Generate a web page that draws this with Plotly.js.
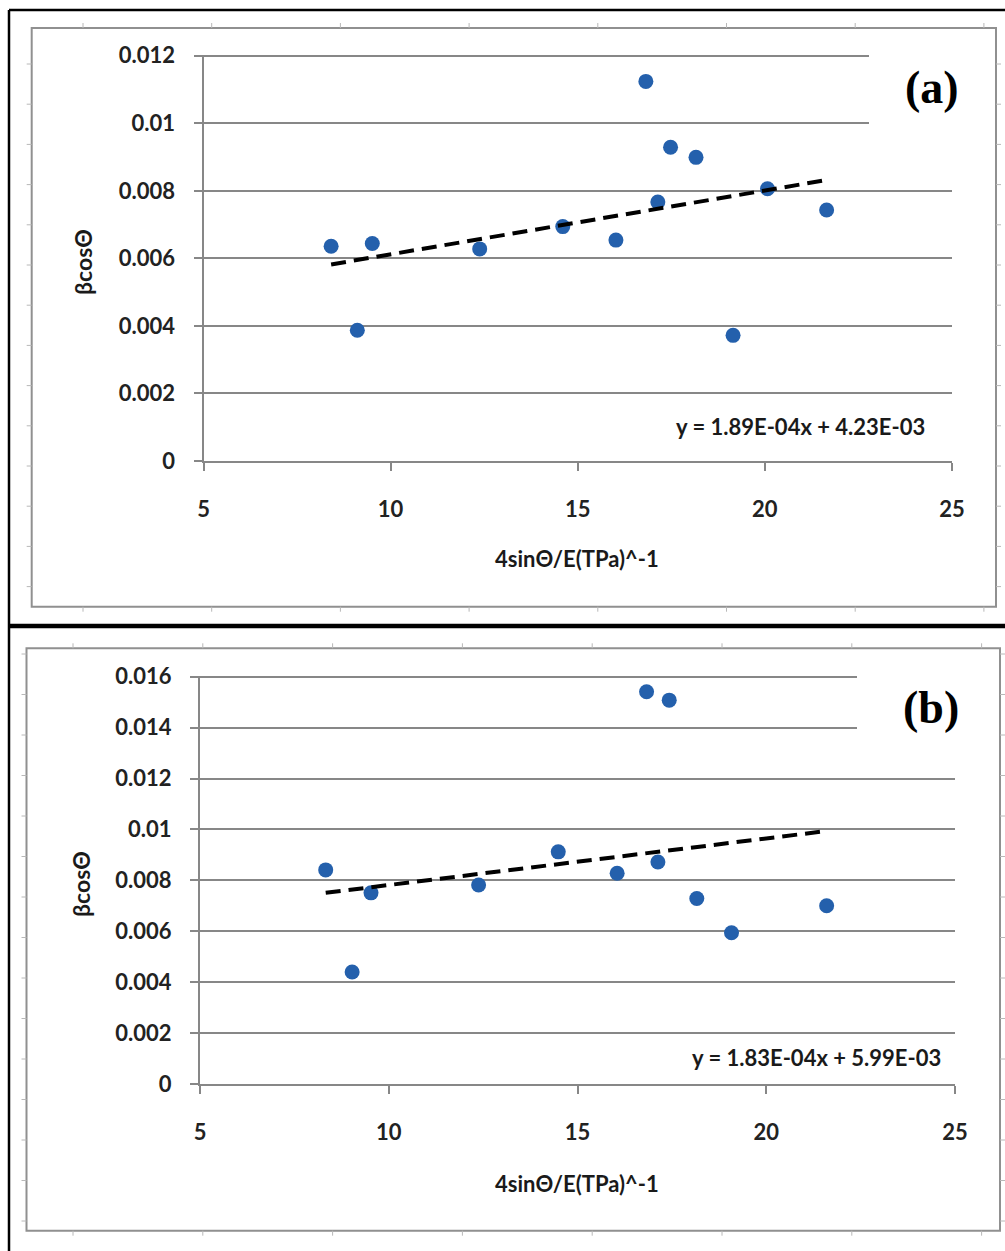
<!DOCTYPE html>
<html>
<head>
<meta charset="utf-8">
<script src="https://cdn.plot.ly/plotly-3.0.1.min.js"></script>
<style>
html,body{margin:0;padding:0;background:#fff;}
#chart{width:1005px;height:1251px;}
</style>
</head>
<body>
<div id="chart"></div>
<script>
// ---------- data ----------
const xA = [8.41, 9.11, 9.51, 12.38, 14.60, 16.02, 16.82, 17.14, 17.48, 18.16, 19.15, 20.07, 21.65];
const yA = [0.00636, 0.00387, 0.00644, 0.00628, 0.00694, 0.00654, 0.01124, 0.00767, 0.00929, 0.00899, 0.00372, 0.00806, 0.00743];
const trendAx = [8.41, 21.65];
const trendAy = [0.00582, 0.00832];
const eqA = "y = 1.89E-04x + 4.23E-03";

const xB = [8.33, 9.03, 9.53, 12.38, 14.49, 16.05, 16.83, 17.13, 17.43, 18.16, 19.08, 21.60];
const yB = [0.00841, 0.00440, 0.00751, 0.00782, 0.00912, 0.00828, 0.01541, 0.00872, 0.01508, 0.00729, 0.00594, 0.00700];
const trendBx = [8.33, 21.60];
const trendBy = [0.00751, 0.00994];
const eqB = "y = 1.83E-04x + 5.99E-03";

const xTickVals = [5, 10, 15, 20, 25];
const xTickText = ["5", "10", "15", "20", "25"];
const yTickValsA = [0, 0.002, 0.004, 0.006, 0.008, 0.010, 0.012];
const yTickTextA = ["0", "0.002", "0.004", "0.006", "0.008", "0.01", "0.012"];
const yTickValsB = [0, 0.002, 0.004, 0.006, 0.008, 0.010, 0.012, 0.014, 0.016];
const yTickTextB = ["0", "0.002", "0.004", "0.006", "0.008", "0.01", "0.012", "0.014", "0.016"];
const xTitle = "4sinΘ/E(TPa)^-1";
const yTitle = "βcosΘ";
const panelLabels = ["(a)", "(b)"];

// ---------- layout helpers ----------
const W = 1005, H = 1251;
const px = v => v / W;
const py = v => 1 - v / H;

const blue = "#2460ac";
const gridGray = "#878787";
const tickFont = {family: "Lato, 'Open Sans', sans-serif", size: 22, color: "#222", weight: "bold"};

function scatter(x, y, xa, ya) {
  return {x: x, y: y, xaxis: xa, yaxis: ya, type: "scatter", mode: "markers",
    marker: {color: blue, size: 15}, hoverinfo: "skip", showlegend: false};
}
function trend(x, y, xa, ya) {
  return {x: x, y: y, xaxis: xa, yaxis: ya, type: "scatter", mode: "lines",
    line: {color: "#000", width: 4, dash: "15px,8px"}, hoverinfo: "skip", showlegend: false};
}

const data = [
  scatter(xA, yA, "x", "y"), trend(trendAx, trendAy, "x", "y"),
  scatter(xB, yB, "x2", "y2"), trend(trendBx, trendBy, "x2", "y2")
];

function xaxisDef(domain, anchor) {
  return {domain: domain, anchor: anchor, range: [5, 25], tickvals: xTickVals, ticktext: xTickText,
    showgrid: false, zeroline: false, showline: true, linecolor: gridGray, linewidth: 2,
    ticks: "outside", ticklen: 8, tickwidth: 2, tickcolor: gridGray, tickfont: tickFont,
    ticklabelstandoff: 20, fixedrange: true};
}
function yaxisDef(domain, anchor, range, vals, text) {
  return {domain: domain, anchor: anchor, range: range, tickvals: vals, ticktext: text,
    showgrid: true, gridcolor: gridGray, gridwidth: 2, zeroline: false,
    showline: true, linecolor: gridGray, linewidth: 2,
    ticks: "outside", ticklen: 8, tickwidth: 2, tickcolor: gridGray, tickfont: tickFont,
    ticklabelstandoff: 14, fixedrange: true};
}

const shapes = [];
// outer black border (left + top) and separator
shapes.push({type: "line", xref: "paper", yref: "paper", x0: px(9), x1: px(9), y0: py(10), y1: py(1251),
  line: {color: "#000", width: 2.5}, layer: "above"});
shapes.push({type: "line", xref: "paper", yref: "paper", x0: px(9), x1: px(1005), y0: py(10), y1: py(10),
  line: {color: "#000", width: 2.5}, layer: "above"});
shapes.push({type: "line", xref: "paper", yref: "paper", x0: px(9), x1: px(1005), y0: py(626), y1: py(626),
  line: {color: "#000", width: 4.5}, layer: "above"});

// light gray chart-area frames with small ruler ticks
function frame(l, r, t, b, tx0, tstep, ly0, lstep) {
  shapes.push({type: "rect", xref: "paper", yref: "paper", x0: px(l), x1: px(r), y0: py(t), y1: py(b),
    line: {color: "#909090", width: 2}, fillcolor: "rgba(0,0,0,0)", layer: "below"});
  const tc = {color: "#b8b8b8", width: 1};
  for (let x = tx0; x < r; x += tstep) {
    shapes.push({type: "line", xref: "paper", yref: "paper", x0: px(x), x1: px(x), y0: py(t), y1: py(t - 5), line: tc});
    shapes.push({type: "line", xref: "paper", yref: "paper", x0: px(x), x1: px(x), y0: py(b), y1: py(b + 5), line: tc});
  }
  for (let y = ly0; y < b; y += lstep) {
    shapes.push({type: "line", xref: "paper", yref: "paper", x0: px(l), x1: px(l - 5), y0: py(y), y1: py(y), line: tc});
    shapes.push({type: "line", xref: "paper", yref: "paper", x0: px(r), x1: px(r + 5), y0: py(y), y1: py(y), line: tc});
  }
}
frame(31.7, 996, 28, 606.7, 83, 128.7, 64, 40.2);
frame(26.5, 1000, 648.3, 1230.7, 73, 129.8, 654, 40.5);

// white patches where the upper gridlines stop short near the panel label
shapes.push({type: "rect", xref: "paper", yref: "paper", x0: px(869), x1: px(962), y0: py(45), y1: py(135),
  line: {width: 0}, fillcolor: "#fff", layer: "above"});
shapes.push({type: "rect", xref: "paper", yref: "paper", x0: px(857), x1: px(962), y0: py(664), y1: py(740),
  line: {width: 0}, fillcolor: "#fff", layer: "above"});

const annFontBold = {family: "Lato, 'Open Sans', sans-serif", size: 22, color: "#1a1a1a", weight: "bold"};
const yTitleFont = {family: "Lato, 'Open Sans', sans-serif", size: 23, color: "#1a1a1a", weight: "bold"};
const eqFont = {family: "Lato, 'Open Sans', sans-serif", size: 22, color: "#1a1a1a", weight: "bold"};
const labelFont = {family: "'Liberation Serif', 'Times New Roman', serif", size: 46, color: "#000", weight: "bold"};

function ann(text, x, y, font, extra) {
  return Object.assign({text: text, xref: "paper", yref: "paper", x: px(x), y: py(y),
    xanchor: "center", yanchor: "middle", showarrow: false, font: font}, extra || {});
}

const annotations = [
  ann(xTitle, 577, 558, annFontBold),
  ann(yTitle, 83, 262, yTitleFont, {textangle: -90}),
  ann(eqA, 800, 427, eqFont),
  ann(panelLabels[0], 932, 87, labelFont),
  ann(xTitle, 577, 1183, annFontBold),
  ann(yTitle, 81, 884, yTitleFont, {textangle: -90}),
  ann(eqB, 816, 1057, eqFont),
  ann(panelLabels[1], 931, 707, labelFont)
];

const layout = {
  width: W, height: H,
  margin: {l: 0, r: 0, t: 0, b: 0, pad: 0},
  paper_bgcolor: "#fff", plot_bgcolor: "#fff",
  showlegend: false,
  xaxis: xaxisDef([px(203.5), px(952)], "y"),
  yaxis: yaxisDef([py(461), py(54.7)], "x", [0, 0.01203], yTickValsA, yTickTextA),
  xaxis2: xaxisDef([px(200), px(955)], "y2"),
  yaxis2: yaxisDef([py(1084), py(675.7)], "x2", [0, 0.01604], yTickValsB, yTickTextB),
  shapes: shapes,
  annotations: annotations
};

Plotly.newPlot("chart", data, layout, {staticPlot: true, displayModeBar: false});
</script>
</body>
</html>
